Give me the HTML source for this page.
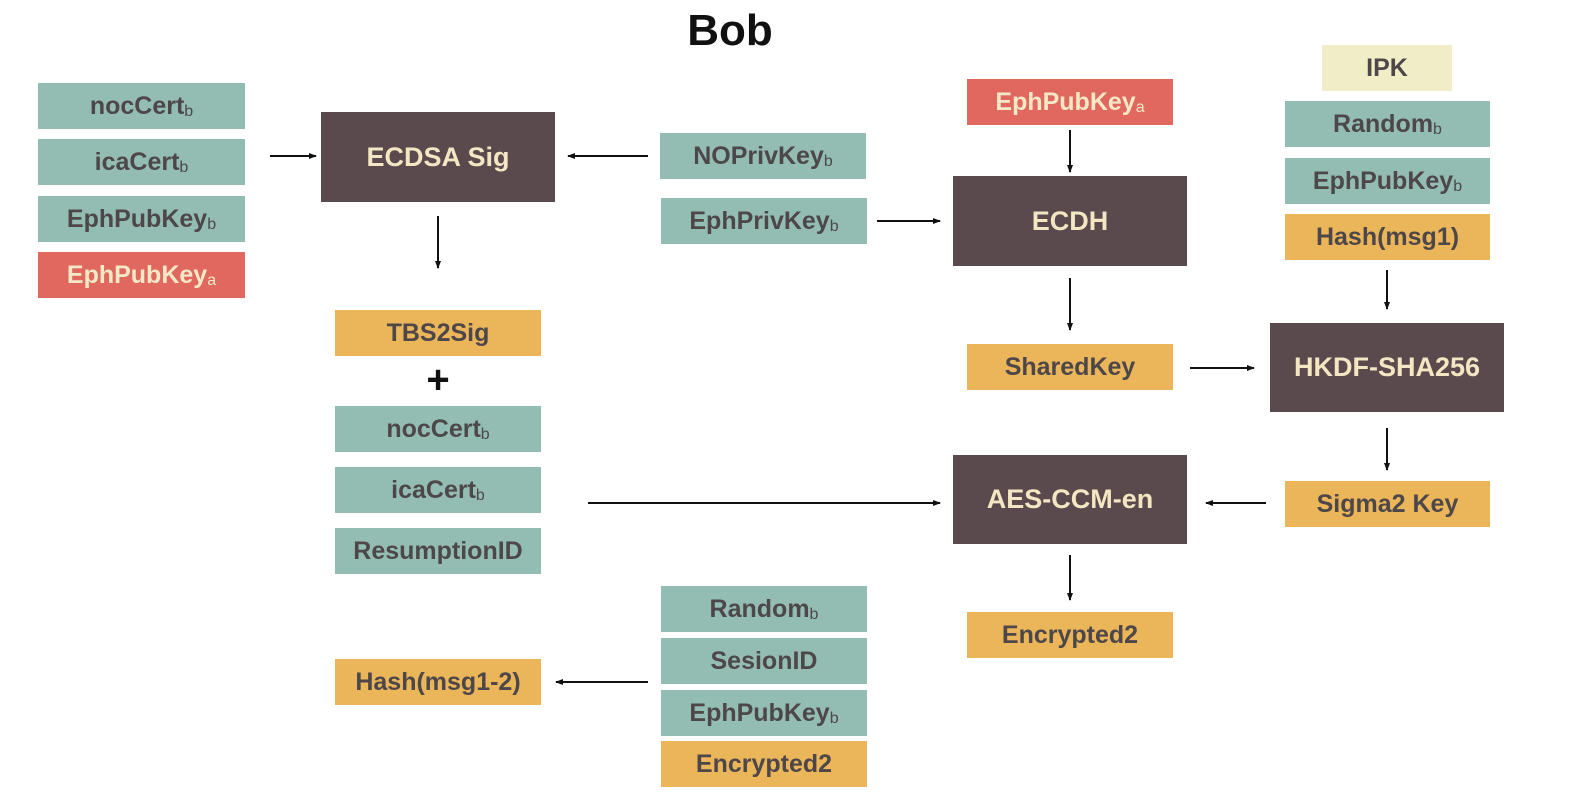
<!DOCTYPE html>
<html><head><meta charset="utf-8"><style>
body{margin:0;width:1570px;height:804px;background:#fff;position:relative;overflow:hidden;font-family:"Liberation Sans",sans-serif;}
.b{position:absolute;display:flex;align-items:center;justify-content:center;font-size:25px;font-weight:bold;color:#4d4749;box-sizing:border-box;white-space:nowrap;}
.t{background:#93bdb3}.r{background:#e0685e;color:#f5e8c6}.o{background:#ebb55a}.y{background:#f1edc6}
.d{background:#5a494d;color:#f3e6c2;font-size:27px}
sub{font-size:16px;position:relative;top:6px;vertical-align:baseline;line-height:0;font-weight:normal}
svg{position:absolute;left:0;top:0}
</style></head><body>
<div class="b" style="left:630px;top:4px;width:200px;height:54px;font-size:44px;color:#111">Bob</div>

<div class="b t" style="left:38px;top:83px;width:207px;height:46px">nocCert<sub>b</sub></div>
<div class="b t" style="left:38px;top:139px;width:207px;height:46px">icaCert<sub>b</sub></div>
<div class="b t" style="left:38px;top:196px;width:207px;height:46px">EphPubKey<sub>b</sub></div>
<div class="b r" style="left:38px;top:252px;width:207px;height:46px">EphPubKey<sub>a</sub></div>

<div class="b d" style="left:321px;top:112px;width:234px;height:90px">ECDSA Sig</div>
<div class="b t" style="left:660px;top:133px;width:206px;height:46px">NOPrivKey<sub>b</sub></div>
<div class="b t" style="left:661px;top:198px;width:206px;height:46px">EphPrivKey<sub>b</sub></div>

<div class="b r" style="left:967px;top:79px;width:206px;height:46px">EphPubKey<sub>a</sub></div>
<div class="b d" style="left:953px;top:176px;width:234px;height:90px">ECDH</div>

<div class="b y" style="left:1322px;top:45px;width:130px;height:46px">IPK</div>
<div class="b t" style="left:1285px;top:101px;width:205px;height:46px">Random<sub>b</sub></div>
<div class="b t" style="left:1285px;top:158px;width:205px;height:46px">EphPubKey<sub>b</sub></div>
<div class="b o" style="left:1285px;top:214px;width:205px;height:46px">Hash(msg1)</div>
<div class="b d" style="left:1270px;top:323px;width:234px;height:89px">HKDF-SHA256</div>
<div class="b o" style="left:967px;top:344px;width:206px;height:46px">SharedKey</div>

<div class="b o" style="left:335px;top:310px;width:206px;height:46px">TBS2Sig</div>
<div class="b" style="left:413px;top:360px;width:50px;height:40px;font-size:40px;color:#111">+</div>
<div class="b t" style="left:335px;top:406px;width:206px;height:46px">nocCert<sub>b</sub></div>
<div class="b t" style="left:335px;top:467px;width:206px;height:46px">icaCert<sub>b</sub></div>
<div class="b t" style="left:335px;top:528px;width:206px;height:46px">ResumptionID</div>

<div class="b d" style="left:953px;top:455px;width:234px;height:89px">AES-CCM-en</div>
<div class="b o" style="left:1285px;top:481px;width:205px;height:46px">Sigma2 Key</div>
<div class="b o" style="left:967px;top:612px;width:206px;height:46px">Encrypted2</div>

<div class="b t" style="left:661px;top:586px;width:206px;height:46px">Random<sub>b</sub></div>
<div class="b t" style="left:661px;top:638px;width:206px;height:46px">SesionID</div>
<div class="b t" style="left:661px;top:690px;width:206px;height:46px">EphPubKey<sub>b</sub></div>
<div class="b o" style="left:661px;top:741px;width:206px;height:46px">Encrypted2</div>
<div class="b o" style="left:335px;top:659px;width:206px;height:46px">Hash(msg1-2)</div>

<svg width="1570" height="804">
<defs><marker id="a" markerWidth="8" markerHeight="8" refX="7" refY="4" orient="auto" markerUnits="userSpaceOnUse"><path d="M0,1 L8,4 L0,7 Z" fill="#111"/></marker></defs>
<g stroke="#111" stroke-width="2" marker-end="url(#a)">
<line x1="270" y1="156" x2="316" y2="156"/>
<line x1="648" y1="156" x2="568" y2="156"/>
<line x1="438" y1="216" x2="438" y2="268"/>
<line x1="877" y1="221" x2="940" y2="221"/>
<line x1="1070" y1="130" x2="1070" y2="172"/>
<line x1="1070" y1="278" x2="1070" y2="330"/>
<line x1="1190" y1="368" x2="1254" y2="368"/>
<line x1="1387" y1="270" x2="1387" y2="309"/>
<line x1="1387" y1="428" x2="1387" y2="470"/>
<line x1="1266" y1="503" x2="1206" y2="503"/>
<line x1="588" y1="503" x2="940" y2="503"/>
<line x1="1070" y1="555" x2="1070" y2="600"/>
<line x1="648" y1="682" x2="556" y2="682"/>
</g></svg>
</body></html>
